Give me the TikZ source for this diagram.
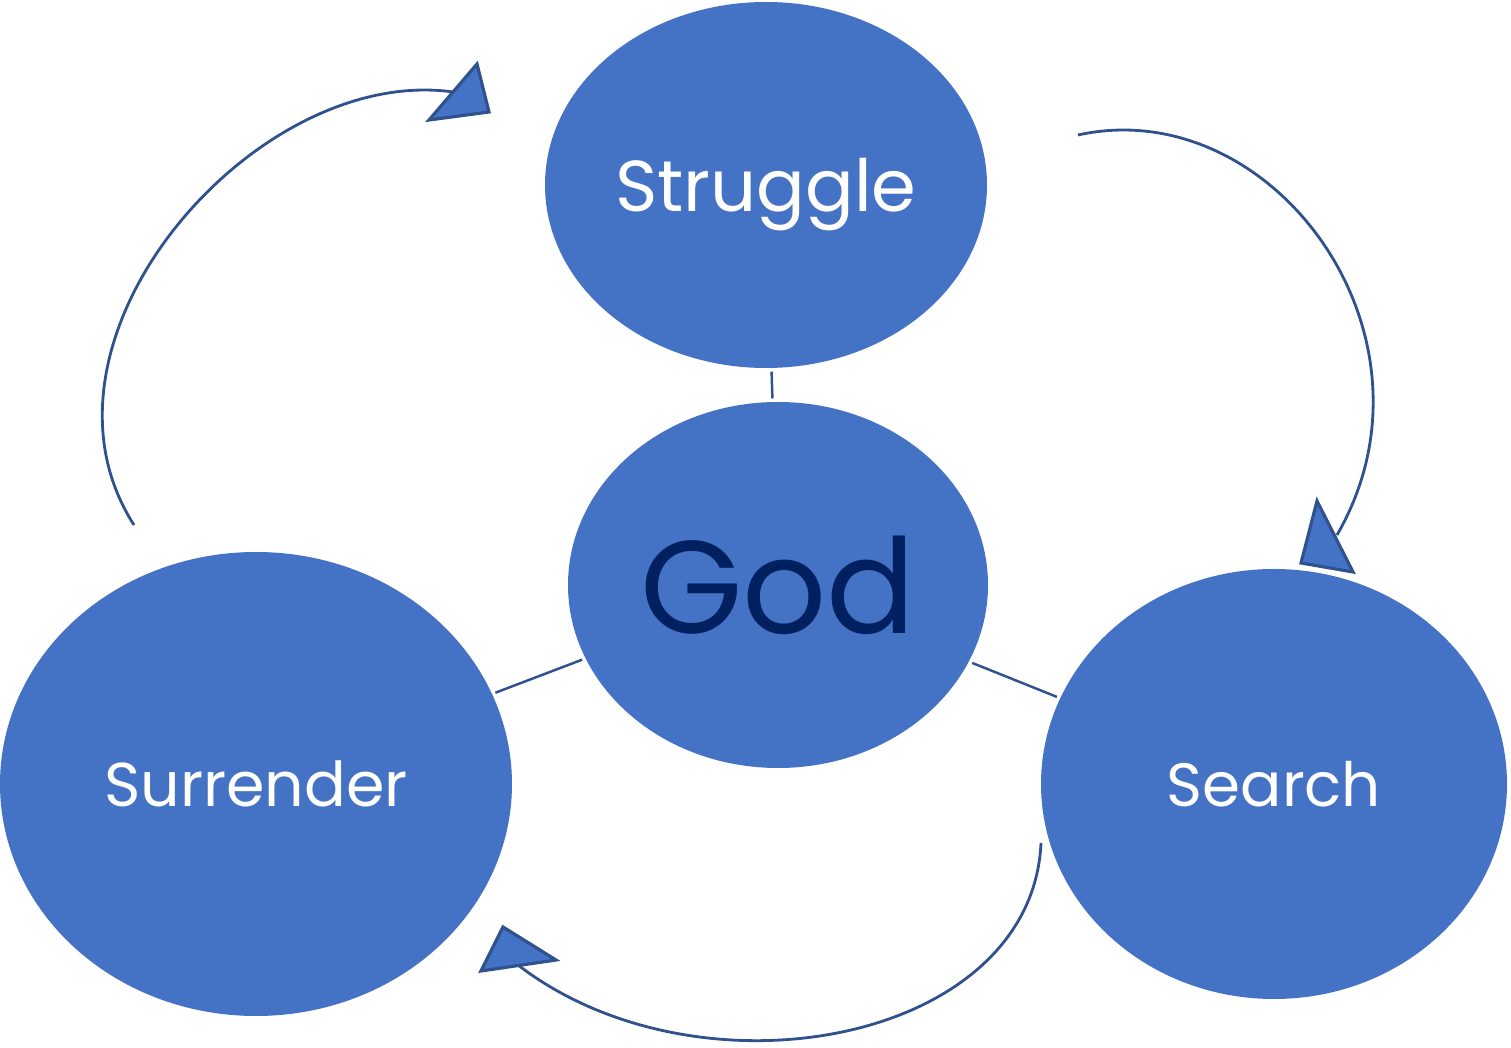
\documentclass[tikz,border=0pt]{standalone}
\usepackage{fontspec}
\setmainfont{Poppins}
\usetikzlibrary{shapes.geometric}
\definecolor{ovalblue}{HTML}{4472C4}
\definecolor{lineblue}{HTML}{2F528F}
\definecolor{godnavy}{HTML}{002060}
\tikzset{
  oval/.style={ellipse, fill=ovalblue, inner sep=0pt, text=white, text depth=0pt},
  link/.style={draw=lineblue, line width=0.7pt, shorten <=0.3mm, shorten >=0.3mm},
  cycleline/.style={draw=lineblue, line width=0.8pt},
  tiphead/.style={fill=ovalblue, draw=lineblue, line width=0.9pt, line join=miter}
}
\begin{document}
\begin{tikzpicture}[x=0.1mm, y=-0.1mm]
  \useasboundingbox (0,0) rectangle (1511,1048);
  % ovals
  \node[oval, minimum width=44.2mm, minimum height=36.6mm,
        font=\fontsize{20.5}{24}\selectfont] (struggle) at (766,185) {Struggle};
  \node[oval, minimum width=42mm, minimum height=36.6mm, text=godnavy,
        font=\fontsize{37.5}{42}\selectfont] (god) at (778,585) {God};
  \node[oval, minimum width=51.2mm, minimum height=46.4mm,
        font=\fontsize{17.6}{21}\selectfont] (surrender) at (256,784) {Surrender};
  \node[oval, minimum width=46.6mm, minimum height=43mm,
        font=\fontsize{17.4}{21}\selectfont] (search) at (1274,784) {Search};
  % spokes
  \draw[link] (god) -- (struggle);
  \draw[link] (god) -- (surrender);
  \draw[link] (god) -- (search);
  % cycle ends
  \coordinate (surr-out) at (134,525);
  \coordinate (strug-in) at (453,92);
  \coordinate (strug-out) at (1078,135);
  \coordinate (search-in) at (1337,535);
  \coordinate (search-out) at (1041,843);
  \coordinate (surr-in) at (518,965);
  % surrender to struggle
  \draw[cycleline] (surr-out) .. controls (15,340) and (255,64) .. (strug-in);
  \filldraw[tiphead] (477,64) -- (489,112) -- (429,120) -- cycle;
  % struggle to search
  \draw[cycleline] (strug-out) .. controls (1273,92) and (1452,336) .. (search-in);
  \filldraw[tiphead] (1317,501) -- (1353,572) -- (1301,563) -- cycle;
  % search to surrender
  \draw[cycleline] (search-out) .. controls (1032,1043) and (700,1105) .. (surr-in);
  \filldraw[tiphead] (503,927) -- (556,960) -- (481,971) -- cycle;
\end{tikzpicture}
\end{document}
